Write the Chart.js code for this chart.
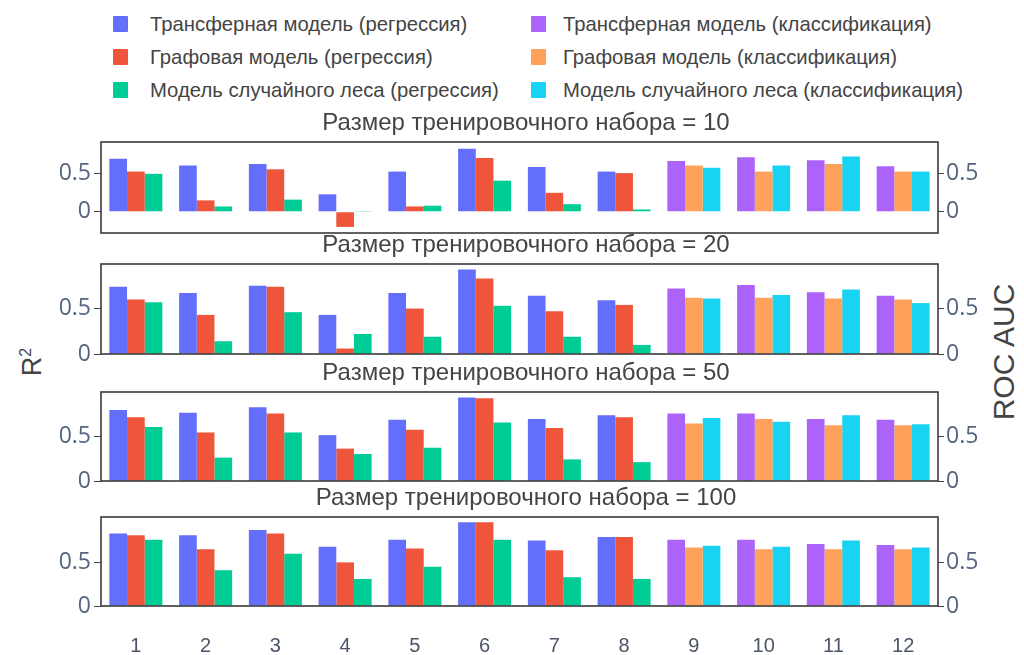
<!DOCTYPE html>
<html>
<head>
<meta charset="utf-8">
<script src="https://cdn.jsdelivr.net/npm/chart.js@4.4.1/dist/chart.umd.min.js"></script>
<style>
  html, body { margin: 0; padding: 0; background: #fff; }
  #wrap { position: relative; width: 1024px; height: 655px; overflow: hidden;
          font-family: "Liberation Sans", Arial, sans-serif; }
  #wrap canvas { position: absolute; left: 0; }
  .leg { position: absolute; display: flex; align-items: center; height: 22px;
         font-size: 20.3px; color: #444; white-space: nowrap; }
  .sw { width: 15px; height: 16px; border-radius: 1px; }
  .axt { position: absolute; color: #444; white-space: nowrap;
         transform: translate(-50%, -50%) rotate(-90deg); }
</style>
</head>
<body>
<div id="wrap"></div>
<script>
// Category labels (x axis)
const categories = ['1', '2', '3', '4', '5', '6', '7', '8', '9', '10', '11', '12'];

// Series names and colours
const seriesNames = [
  'Трансферная модель (регрессия)',
  'Графовая модель (регрессия)',
  'Модель случайного леса (регрессия)',
  'Трансферная модель (классификация)',
  'Графовая модель (классификация)',
  'Модель случайного леса (классификация)'
];
const seriesColors = ['#636EFA', '#EF553B', '#00CC96', '#AB63FA', '#FFA15A', '#19D3F3'];

// Training set sizes (one panel each)
const trainSizes = [10, 20, 50, 100];

// Regression R² for targets 1-8
const transferReg10 = [0.70, 0.61, 0.63, 0.23, 0.53, 0.83, 0.59, 0.53];
const graphReg10    = [0.53, 0.15, 0.56, -0.20, 0.07, 0.71, 0.25, 0.51];
const forestReg10   = [0.50, 0.07, 0.16, 0.01, 0.08, 0.41, 0.10, 0.03];

const transferReg20 = [0.74, 0.67, 0.75, 0.43, 0.67, 0.93, 0.64, 0.59];
const graphReg20    = [0.60, 0.43, 0.74, 0.06, 0.50, 0.83, 0.47, 0.54];
const forestReg20   = [0.57, 0.14, 0.46, 0.22, 0.19, 0.53, 0.19, 0.10];

const transferReg50 = [0.79, 0.76, 0.82, 0.51, 0.68, 0.93, 0.69, 0.73];
const graphReg50    = [0.71, 0.54, 0.75, 0.36, 0.57, 0.92, 0.59, 0.71];
const forestReg50   = [0.60, 0.26, 0.54, 0.30, 0.37, 0.65, 0.24, 0.21];

const transferReg100 = [0.83, 0.81, 0.87, 0.68, 0.76, 0.96, 0.75, 0.79];
const graphReg100    = [0.81, 0.65, 0.83, 0.50, 0.66, 0.96, 0.64, 0.79];
const forestReg100   = [0.76, 0.41, 0.60, 0.31, 0.45, 0.76, 0.33, 0.31];

// Classification ROC AUC for targets 9-12
const transferClf10 = [0.67, 0.72, 0.68, 0.60];
const graphClf10    = [0.61, 0.53, 0.63, 0.53];
const forestClf10   = [0.58, 0.61, 0.73, 0.53];

const transferClf20 = [0.72, 0.76, 0.68, 0.64];
const graphClf20    = [0.62, 0.62, 0.61, 0.60];
const forestClf20   = [0.61, 0.65, 0.71, 0.56];

const transferClf50 = [0.75, 0.75, 0.69, 0.68];
const graphClf50    = [0.64, 0.69, 0.62, 0.62];
const forestClf50   = [0.70, 0.66, 0.73, 0.63];

const transferClf100 = [0.76, 0.76, 0.71, 0.70];
const graphClf100    = [0.67, 0.65, 0.65, 0.65];
const forestClf100   = [0.69, 0.68, 0.75, 0.67];

// Axis tick values
const yTicks = [0, 0.5];

const panels = [
  { reg: [transferReg10, graphReg10, forestReg10],   clf: [transferClf10, graphClf10, forestClf10] },
  { reg: [transferReg20, graphReg20, forestReg20],   clf: [transferClf20, graphClf20, forestClf20] },
  { reg: [transferReg50, graphReg50, forestReg50],   clf: [transferClf50, graphClf50, forestClf50] },
  { reg: [transferReg100, graphReg100, forestReg100], clf: [transferClf100, graphClf100, forestClf100] }
];

// Layout of the stacked panels
const FONT = '"Liberation Sans", Arial, sans-serif';
const TICK_FONT = '"Open Sans", "Liberation Sans", sans-serif';
const plotLeft = 101, plotRight = 938;
const frameTop = [142, 264, 392, 517];
const frameBottom = [233, 354, 481, 606];
const yRange = [[-0.28, 0.92], [0, 0.99], [0, 0.99], [0, 1.02]];
const titleBox = 40;
const belowFrame = 18;   // room under a panel for its lowest tick label

const wrap = document.getElementById('wrap');

// Legend: two columns, three rows
const legendCols = [{ sw: 113, txt: 150 }, { sw: 531, txt: 563 }];
const legendRows = [24, 57, 90];
seriesNames.forEach((name, i) => {
  const col = legendCols[Math.floor(i / 3)];
  const row = legendRows[i % 3];
  const sw = document.createElement('div');
  sw.className = 'leg';
  sw.style.left = col.sw + 'px';
  sw.style.top = (row - 11) + 'px';
  sw.innerHTML = '<div class="sw" style="background:' + seriesColors[i] + '"></div>';
  wrap.appendChild(sw);
  const tx = document.createElement('div');
  tx.className = 'leg';
  tx.style.left = col.txt + 'px';
  tx.style.top = (row - 11) + 'px';
  tx.textContent = name;
  wrap.appendChild(tx);
});

// Axis titles
const r2 = document.createElement('div');
r2.className = 'axt';
r2.style.left = '32px'; r2.style.top = '362px'; r2.style.fontSize = '27px';
r2.innerHTML = 'R<sup style="font-size:16px">2</sup>';
wrap.appendChild(r2);
const roc = document.createElement('div');
roc.className = 'axt';
roc.style.left = '1004px'; roc.style.top = '352px'; roc.style.fontSize = '30px';
roc.textContent = 'ROC AUC';
wrap.appendChild(roc);

// Plot frame around each panel
const framePlugin = {
  id: 'frame',
  afterDatasetsDraw(chart) {
    const { ctx, chartArea: a } = chart;
    ctx.save();
    ctx.strokeStyle = '#3a3a3a';
    ctx.lineWidth = 1.6;
    ctx.strokeRect(a.left, a.top, a.right - a.left, a.bottom - a.top);
    ctx.restore();
  }
};

const fmtTick = v => (v === 0 ? '0' : String(v));

panels.forEach((p, i) => {
  const last = i === panels.length - 1;
  const top = frameTop[i] - titleBox;
  const height = last ? 655 - top : frameBottom[i] - top + belowFrame;
  const canvas = document.createElement('canvas');
  canvas.width = 1024;
  canvas.height = height;
  canvas.style.top = top + 'px';
  wrap.appendChild(canvas);

  const datasets = [];
  p.reg.forEach((vals, k) => {
    datasets.push({
      label: seriesNames[k], yAxisID: 'y',
      data: vals.concat([null, null, null, null]),
      backgroundColor: seriesColors[k]
    });
  });
  p.clf.forEach((vals, k) => {
    datasets.push({
      label: seriesNames[k + 3], yAxisID: 'y1',
      data: [null, null, null, null, null, null, null, null].concat(vals),
      backgroundColor: seriesColors[k + 3]
    });
  });

  const yAxis = (pos) => ({
    position: pos,
    min: yRange[i][0], max: yRange[i][1],
    afterBuildTicks(s) { s.ticks = yTicks.map(v => ({ value: v })); },
    afterFit(s) { s.width = pos === 'left' ? plotLeft - 28 : 1024 - plotRight; },
    grid: { drawOnChartArea: false, drawTicks: true, tickLength: pos === 'left' ? 7 : 6,
            color: '#444', lineWidth: 1 },
    border: { display: false },
    ticks: { padding: pos === 'left' ? 3 : 2, color: '#56657f',
             font: { family: TICK_FONT, size: 23 }, callback: fmtTick }
  });

  const xAxis = {
    display: last,
    grid: { display: false },
    border: { display: false },
    ticks: { padding: 20, color: '#4a5568', font: { family: FONT, size: 20 },
             maxRotation: 0, autoSkip: false }
  };
  if (last) xAxis.afterFit = s => { s.height = 655 - frameBottom[i]; };

  new Chart(canvas, {
    type: 'bar',
    data: { labels: categories, datasets },
    plugins: [framePlugin],
    options: {
      responsive: false,
      animation: false,
      devicePixelRatio: 1,
      layout: { padding: { left: 28, right: 0, top: 0, bottom: last ? 0 : belowFrame } },
      datasets: { bar: { categoryPercentage: 0.76, barPercentage: 1.0, skipNull: true, borderWidth: 0 } },
      plugins: {
        legend: { display: false },
        tooltip: { enabled: false },
        title: {
          display: true,
          text: 'Размер тренировочного набора = ' + trainSizes[i],
          color: '#444',
          font: { family: FONT, size: 24, weight: 'normal', lineHeight: 1 },
          padding: { top: 9, bottom: 7 }
        }
      },
      scales: {
        x: xAxis,
        y: yAxis('left'),
        y1: yAxis('right')
      }
    }
  });
});
</script>
</body>
</html>
